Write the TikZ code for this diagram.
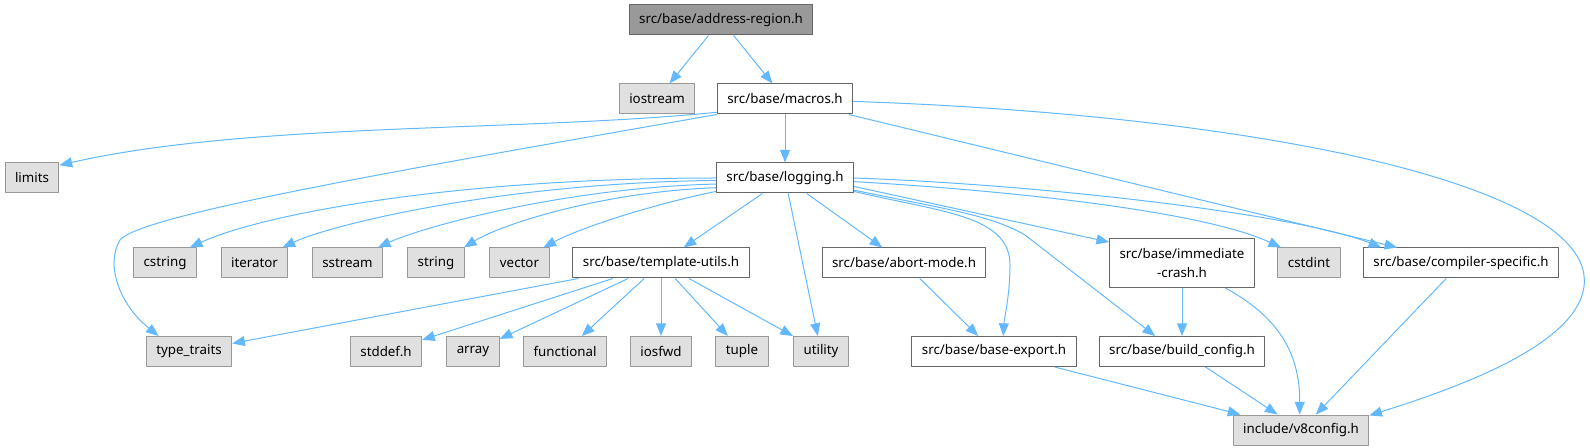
\documentclass[tikz,border=0pt]{standalone}
\usepackage{fontspec}
\setmainfont{Noto Sans}
\usetikzlibrary{arrows.meta}
\definecolor{edgeblue}{HTML}{63B8FF}
\definecolor{rootfill}{HTML}{999999}
\definecolor{boxline}{HTML}{666666}
\definecolor{extfill}{HTML}{E0E0E0}
\definecolor{extline}{HTML}{999999}
\begin{document}
\begin{tikzpicture}[x=0.75pt, y=-0.75pt, line join=round,
        every node/.style={font=\fontsize{10}{14}\selectfont, inner xsep=7.5pt, inner ysep=0pt,
            minimum height=22.5pt, line width=0.75pt},
        hdr/.style={draw=boxline, fill=white},
        ext/.style={draw=extline, fill=extfill},
        focus/.style={draw=boxline, fill=rootfill},
        dep/.style={draw=edgeblue, line width=0.75pt, -{Triangle[length=9.5pt, width=7.5pt]}}]
        \useasboundingbox (0,0) rectangle (1590,448);
        \node[focus] (root) at (721,20) {src/base/address-region.h};
        \node[ext] (ios) at (657,99) {iostream};
        \node[hdr] (macros) at (785,99) {src/base/macros.h};
        \node[ext] (limits) at (32,178) {limits};
        \node[hdr] (logging) at (785,178) {src/base/logging.h};
        \node[ext] (cstring) at (165,263) {cstring};
        \node[ext] (iter) at (254.5,263) {iterator};
        \node[ext] (sstream) at (347.5,263) {sstream};
        \node[ext] (string) at (436,263) {string};
        \node[ext] (vector) at (519.5,263) {vector};
        \node[hdr] (tmpl) at (661,263) {src/base/template-utils.h};
        \node[hdr] (abort) at (904,263) {src/base/abort-mode.h};
        \node[hdr, align=center, minimum height=36.75pt] (crash) at (1182,263) {src/base/immediate\\-crash.h};
        \node[ext] (cstdint) at (1309,263) {cstdint};
        \node[hdr] (compiler) at (1461,263) {src/base/compiler-specific.h};
        \node[ext] (typetr) at (189,351.5) {type\_traits};
        \node[ext] (stddef) at (386,351.5) {stddef.h};
        \node[ext] (array) at (473,351.5) {array};
        \node[ext] (functional) at (565,351.5) {functional};
        \node[ext] (iosfwd) at (661,351.5) {iosfwd};
        \node[ext] (tuple) at (742,351.5) {tuple};
        \node[ext] (utility) at (821,351.5) {utility};
        \node[hdr] (baseexp) at (994,351.5) {src/base/base-export.h};
        \node[hdr] (buildcfg) at (1182,351.5) {src/base/build\_config.h};
        \node[ext] (v8cfg) at (1301,430) {include/v8config.h};
        \foreach \a/\b in {root/ios, root/macros, macros/logging, macros/compiler,
            logging/tmpl, logging/utility, logging/abort,
            tmpl/typetr, tmpl/stddef, tmpl/array, tmpl/functional, tmpl/iosfwd, tmpl/tuple, tmpl/utility,
            abort/baseexp, crash/buildcfg, baseexp/v8cfg, buildcfg/v8cfg, compiler/v8cfg}
            \draw[dep] (\a) -- (\b);
        \draw[dep] (macros.191) .. controls (520,132) and (250,122) .. (limits.25);
        \draw[dep] (macros.south west) .. controls (400,170) and (140,215) .. (120,240)
            .. controls (105,265) and (120,305) .. (typetr.153);
        \draw[dep] (macros.-2) .. controls (1250,115) and (1560,180) .. (1583,270)
            .. controls (1600,340) and (1450,390) .. (v8cfg.12);
        \draw[dep] (logging.west) .. controls (450,178) and (260,215) .. (cstring.32);
        \draw[dep] (logging.182) .. controls (500,183) and (330,225) .. (iter.29);
        \draw[dep] (logging.185) .. controls (560,188) and (420,228) .. (sstream.27);
        \draw[dep] (logging.188) .. controls (600,192) and (500,225) .. (string.29);
        \draw[dep] (logging.191) .. controls (650,205) and (580,228) .. (vector.33);
        \draw[dep] (logging.-11) .. controls (940,212) and (1010,215) .. (1010,265)
            .. controls (1010,295) and (1004,320) .. (baseexp.59);
        \draw[dep] (logging.-10) .. controls (950,210) and (990,215) .. (1025,235) -- (buildcfg.150);
        \draw[dep] (logging.-7) -- (crash.164);
        \draw[dep] (logging.-3) .. controls (1000,190) and (1200,210) .. (cstdint.151);
        \draw[dep] (logging.east) .. controls (1050,185) and (1300,215) .. (compiler.169);
        \draw[dep] (crash.-30) .. controls (1275,315) and (1300,350) .. (v8cfg.95);
\end{tikzpicture}
\end{document}
